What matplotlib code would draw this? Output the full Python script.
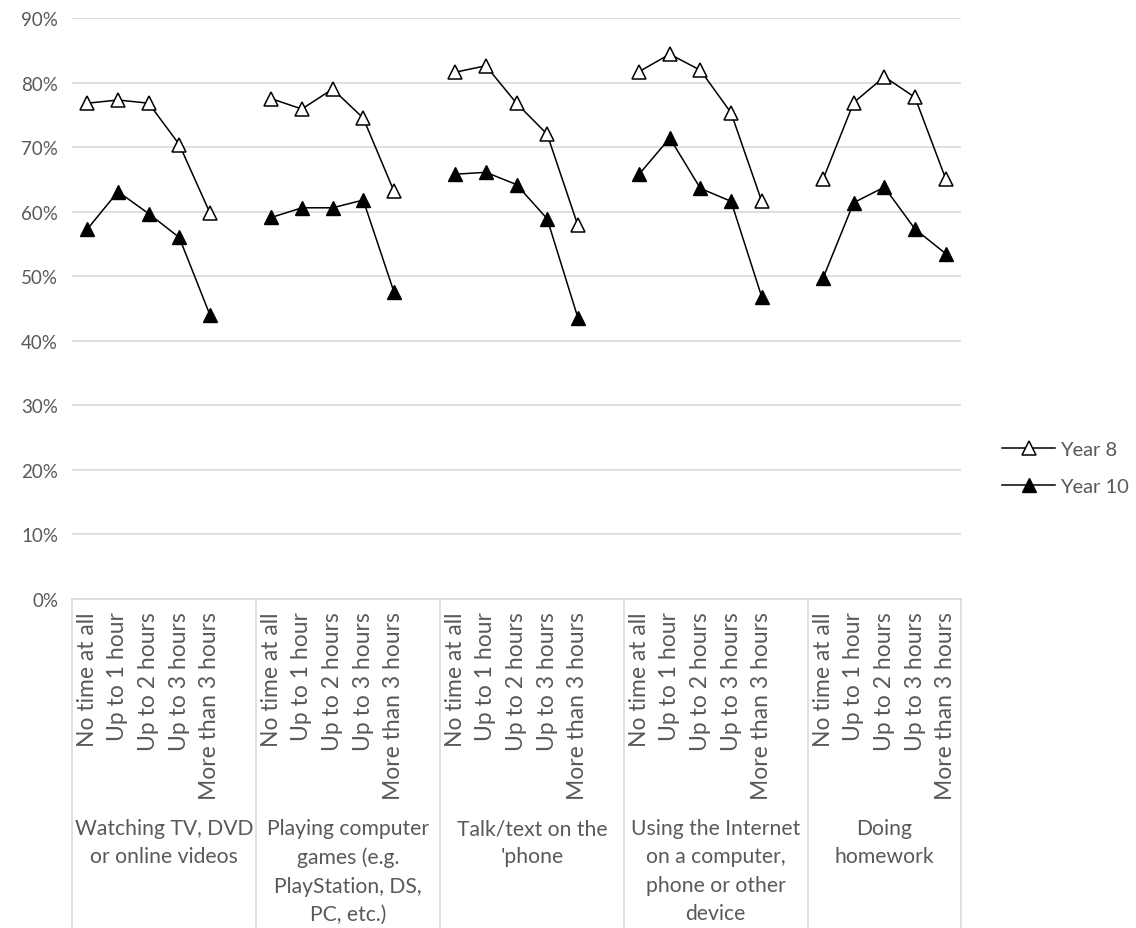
import numpy as np
import matplotlib
matplotlib.use("Agg")
import matplotlib.pyplot as plt
import matplotlib.transforms as mtransforms

# -------------------------------------------------------------------
# Data
# -------------------------------------------------------------------
activities = [
    "Watching TV, DVD\nor online videos",
    "Playing computer\ngames (e.g.\nPlayStation, DS,\nPC, etc.)",
    "Talk/text on the\n'phone",
    "Using the Internet\non a computer,\nphone or other\ndevice",
    "Doing\nhomework",
]
time_spent = [
    "No time at all",
    "Up to 1 hour",
    "Up to 2 hours",
    "Up to 3 hours",
    "More than 3 hours",
]
year8 = [
    [76.8, 77.3, 76.8, 70.4, 59.8],
    [77.5, 75.9, 79.0, 74.5, 63.2],
    [81.6, 82.6, 76.8, 72.0, 57.9],
    [81.7, 84.4, 81.9, 75.3, 61.6],
    [65.0, 76.9, 80.9, 77.7, 65.1],
]
year10 = [
    [57.3, 63.1, 59.7, 56.0, 44.0],
    [59.1, 60.6, 60.6, 61.8, 47.6],
    [65.8, 66.1, 64.2, 58.9, 43.6],
    [65.8, 71.4, 63.6, 61.6, 46.8],
    [49.7, 61.4, 63.8, 57.3, 53.5],
]

TEXT = "#595959"
GRID = "#d9d9d9"
FONT = "Lato"

# -------------------------------------------------------------------
# Layout: each activity gets 5 slots plus one blank slot after it
# -------------------------------------------------------------------
n_groups = len(activities)
n_items = len(time_spent)
step = n_items + 1

fig = plt.figure(figsize=(11.36, 9.29), dpi=100)
ax = fig.add_axes([72 / 1136, 1 - 600 / 929, (961 - 72) / 1136, (600 - 19) / 929])

xticks, xlabels = [], []
for g in range(n_groups):
    xs = np.arange(n_items) + g * step
    ax.plot(xs, year8[g], color="black", lw=1.1, marker="^", markersize=10,
            markerfacecolor="white", markeredgecolor="black", markeredgewidth=1.1,
            label="Year 8" if g == 0 else None, zorder=3)
    ax.plot(xs, year10[g], color="black", lw=1.1, marker="^", markersize=10,
            markerfacecolor="black", markeredgecolor="black",
            label="Year 10" if g == 0 else None, zorder=3)
    xticks.extend(xs)
    xlabels.extend(time_spent)

n_slots = n_groups * step - 1
ax.set_xlim(-0.5, n_slots - 0.5)
ax.set_ylim(0, 90)

ax.set_yticks(np.arange(0, 91, 10))
ax.set_yticklabels([f"{v}%" for v in range(0, 91, 10)])
ax.yaxis.grid(True, color=GRID, lw=1.2)
ax.set_axisbelow(True)

ax.set_xticks(xticks)
ax.set_xticklabels(xlabels, rotation=90, va="top", ha="center")
ax.tick_params(axis="x", length=0, pad=9, labelsize=16.5, labelcolor=TEXT)
ax.tick_params(axis="y", length=0, pad=10, labelsize=13.5, labelcolor=TEXT)
for lab in ax.get_xticklabels() + ax.get_yticklabels():
    lab.set_fontfamily(FONT)

for side in ["left", "right", "top"]:
    ax.spines[side].set_visible(False)
ax.spines["bottom"].set_color(GRID)
ax.spines["bottom"].set_linewidth(1.2)

# group separators and group labels under the axis
trans = mtransforms.blended_transform_factory(ax.transData, ax.transAxes)
bottom = -(929 - 600) / (600 - 19)
bounds = [-0.5] + [g * step - 0.5 for g in range(1, n_groups)] + [n_slots - 0.5]
for b in bounds:
    ax.plot([b, b], [0, bottom], color=GRID, lw=1.2, transform=trans, clip_on=False)
for g, name in enumerate(activities):
    cx = (bounds[g] + bounds[g + 1]) / 2
    ax.text(cx, -0.377, name, transform=trans, ha="center", va="top",
            fontsize=15.2, color=TEXT, family=FONT, linespacing=1.52)

leg = fig.legend(loc="center left", bbox_to_anchor=(984 / 1136, 1 - 469 / 929),
                 frameon=False, handlelength=2.65, handletextpad=0.25,
                 labelspacing=1.0, prop={"family": FONT, "size": 14.5})
for t in leg.get_texts():
    t.set_color(TEXT)

fig.savefig("out.png", dpi=100)
